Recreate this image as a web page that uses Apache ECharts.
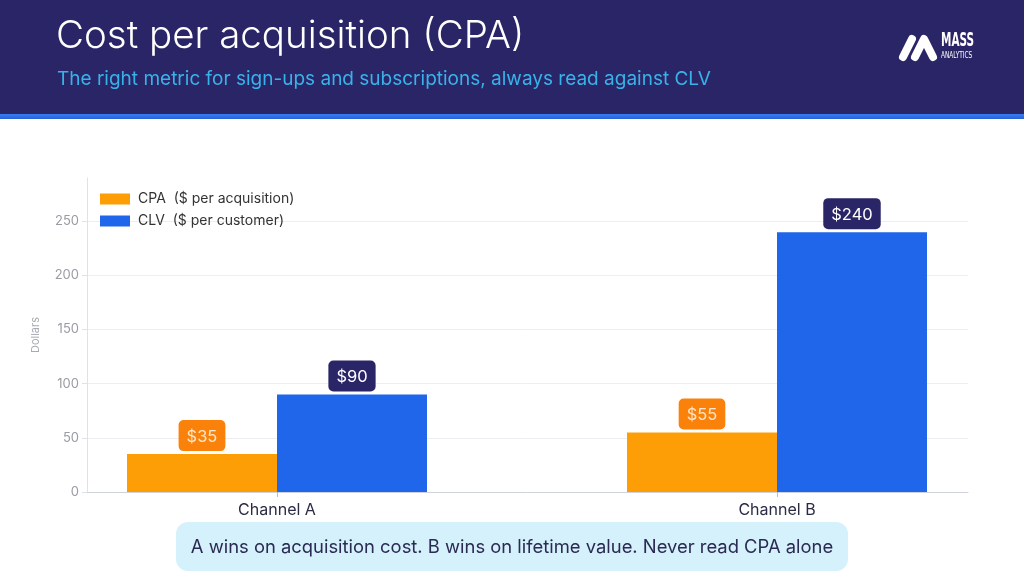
<!DOCTYPE html>
<html>
<head>
<meta charset="utf-8">
<script src="https://cdn.jsdelivr.net/npm/echarts@6/dist/echarts.min.js"></script>
<style>
  html, body { margin: 0; padding: 0; background: #fff; }
  #chart { width: 1024px; height: 576px; }
</style>
</head>
<body>
<div id="chart"></div>
<script>
const FONT = 'Inter';

const channels = ['Channel A', 'Channel B'];
const cpaValues = [35, 55];
const clvValues = [90, 240];
const seriesNames = ['CPA  ($ per acquisition)', 'CLV  ($ per customer)'];

const TITLE = 'Cost per acquisition (CPA)';
const SUBTITLE = 'The right metric for sign-ups and subscriptions, always read against CLV';
const NOTE = 'A wins on acquisition cost. B wins on lifetime value. Never read CPA alone';

const Y_MAX = 290;

const chart = echarts.init(document.getElementById('chart'));

const barLabel = (bg, fg) => ({
  show: true,
  position: 'top',
  distance: 3,
  formatter: '${c}',
  backgroundColor: bg,
  color: fg,
  borderRadius: 5,
  padding: [8, 8, 6, 8],
  fontSize: 16.5,
  fontFamily: FONT,
});

chart.setOption({
  animation: false,
  textStyle: { fontFamily: FONT },
  legend: {
    orient: 'vertical',
    left: 95,
    top: 187,
    itemWidth: 30,
    itemHeight: 11,
    itemGap: 8,
    icon: 'rect',
    textStyle: { fontSize: 14, color: '#333', fontFamily: FONT, padding: [0, 0, 0, 3] },
    data: seriesNames,
  },
  grid: [
    // visible frame: axis line, y axis, gridlines
    { left: 87, right: 56, top: 178, bottom: 84 },
    // bar layout: categories sit on the ends of this inner grid
    { left: 277, right: 247, top: 178, bottom: 84 },
  ],
  xAxis: [
    {
      gridIndex: 0, type: 'value', min: 0, max: 1,
      axisLine: { show: true, lineStyle: { color: '#cfd2da' } },
      axisTick: { show: false }, axisLabel: { show: false }, splitLine: { show: false },
    },
    {
      gridIndex: 1, type: 'category', data: channels, boundaryGap: false,
      axisLine: { show: false },
      axisTick: { show: true, length: 5, lineStyle: { color: '#b8bcc6' } },
      axisLabel: { fontSize: 16, color: '#2b2b45', margin: 10, fontFamily: FONT },
    },
  ],
  yAxis: [
    {
      gridIndex: 0, type: 'value', min: 0, max: Y_MAX, interval: 50,
      name: 'Dollars', nameLocation: 'middle', nameGap: 46,
      nameTextStyle: { fontSize: 11, color: '#a8abb4', fontFamily: FONT },
      axisLine: { show: true, lineStyle: { color: '#dfe2e8' } },
      axisTick: { show: true, length: 5, lineStyle: { color: '#dfe2e8' } },
      axisLabel: { fontSize: 13, color: '#9a9ca4', margin: 8, showMaxLabel: false, fontFamily: FONT },
      splitLine: { show: true, showMaxLine: false, lineStyle: { color: '#eceef2' } },
    },
    { gridIndex: 1, type: 'value', min: 0, max: Y_MAX, show: false },
  ],
  series: [
    {
      name: seriesNames[0], type: 'bar', xAxisIndex: 1, yAxisIndex: 1,
      data: cpaValues, barWidth: 150, barGap: '0%',
      itemStyle: { color: '#fd9e06' },
      label: barLabel('#fb820a', '#fde6cc'),
    },
    {
      name: seriesNames[1], type: 'bar', xAxisIndex: 1, yAxisIndex: 1,
      data: clvValues, barWidth: 150, barGap: '0%',
      itemStyle: { color: '#1f66ea' },
      label: barLabel('#2a2566', '#ffffff'),
    },
  ],
  graphic: [
    { type: 'rect', z: -1, shape: { x: 0, y: 0, width: 1024, height: 115 }, style: { fill: '#2a2566' } },
    { type: 'rect', z: -1, shape: { x: 0, y: 114, width: 1024, height: 5 },
      style: { fill: new echarts.graphic.LinearGradient(0, 0, 0, 1, [
        { offset: 0, color: '#3b7cf0' }, { offset: 1, color: '#2a62d8' }]) } },
    { type: 'text', left: 56, top: 17,
      style: { text: TITLE, fill: '#ffffff', font: `300 38.5px ${FONT}` } },
    { type: 'text', left: 57, top: 70,
      style: { text: SUBTITLE, fill: '#38b3ea', font: `400 19px ${FONT}` } },
    // logo mark
    { type: 'polyline', shape: { points: [[903, 57], [912, 39]] },
      style: { stroke: '#fff', lineWidth: 8, lineCap: 'round' } },
    { type: 'polyline', shape: { points: [[915, 57], [924, 39], [933, 57]] },
      style: { stroke: '#fff', lineWidth: 8, lineCap: 'round', lineJoin: 'round', fill: null } },
    { type: 'text', x: 941, y: 31, scaleX: 0.58,
      style: { text: 'MASS', fill: '#fff', font: `bold 20px "DejaVu Sans Condensed"` } },
    { type: 'text', x: 941, y: 51, scaleX: 0.68,
      style: { text: 'ANALYTICS', fill: '#fff', font: `400 9.5px "DejaVu Sans Condensed"` } },
    // takeaway callout
    { type: 'rect', shape: { x: 176, y: 522, width: 672, height: 49, r: 12 },
      style: { fill: '#d5f1fc' } },
    { type: 'text', x: 512, y: 547,
      style: { text: NOTE, fill: '#2a2a52', font: `400 18.4px ${FONT}`, align: 'center', verticalAlign: 'middle' } },
  ],
});
</script>
</body>
</html>
